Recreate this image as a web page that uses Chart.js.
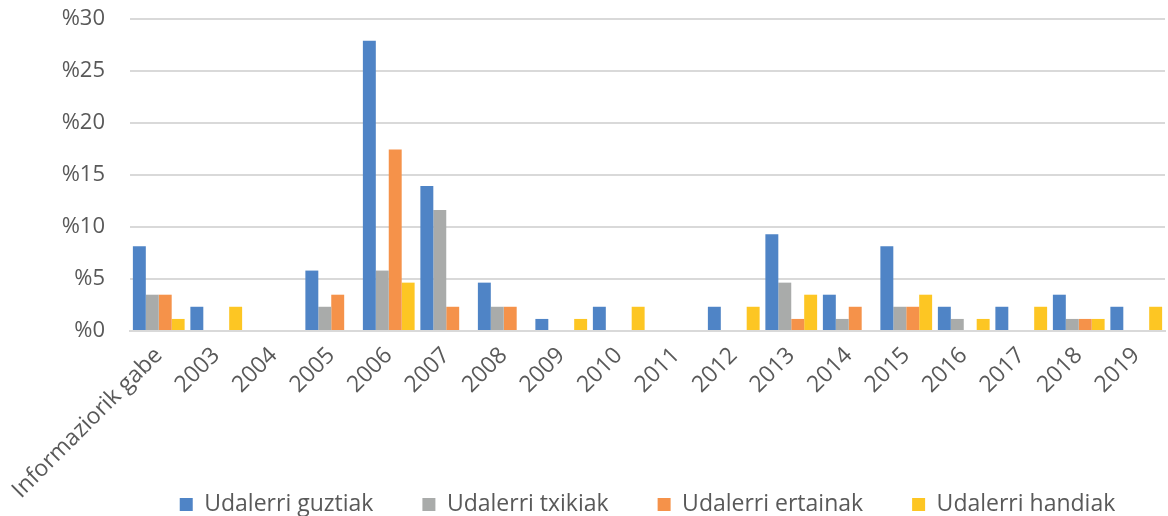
<!DOCTYPE html>
<html>
<head>
<meta charset="utf-8">
<script src="https://cdn.jsdelivr.net/npm/chart.js@4/dist/chart.umd.min.js"></script>
<style>
  html, body { margin: 0; padding: 0; background: #fff; }
  #wrap { width: 1168px; height: 516px; }
</style>
</head>
<body>
<div id="wrap"><canvas id="grafikoa"></canvas></div>
<script>
// urteak / kategoriak
const kategoriak = ['Informaziorik gabe', '2003', '2004', '2005', '2006', '2007', '2008', '2009', '2010',
  '2011', '2012', '2013', '2014', '2015', '2016', '2017', '2018', '2019'];

const guztiak  = [8.14, 2.33, 0, 5.81, 27.9, 13.95, 4.65, 1.16, 2.33, 0, 2.33, 9.3, 3.49, 8.14, 2.33, 2.33, 3.49, 2.33];
const txikiak  = [3.49, 0, 0, 2.33, 5.81, 11.63, 2.33, 0, 0, 0, 0, 4.65, 1.16, 2.33, 1.16, 0, 1.16, 0];
const ertainak = [3.49, 0, 0, 3.49, 17.44, 2.33, 2.33, 0, 0, 0, 0, 1.16, 2.33, 2.33, 0, 0, 1.16, 0];
const handiak  = [1.16, 2.33, 0, 0, 4.65, 0, 0, 1.16, 2.33, 0, 2.33, 3.49, 0, 3.49, 1.16, 2.33, 1.16, 2.33];

const yTikak = [0, 5, 10, 15, 20, 25, 30];

const letra = '"Open Sans", sans-serif';
const grisa = '#595959';

// legenda grafikoaren eremuaren erdian jarri
const legendaErdian = {
  id: 'legendaErdian',
  afterLayout(chart) {
    const l = chart.legend;
    const a = chart.chartArea;
    l.left += (a.left + a.right) - (l.left + l.right);
  }
};

const ctx = document.getElementById('grafikoa').getContext('2d');
new Chart(ctx, {
  type: 'bar',
  data: {
    labels: kategoriak,
    datasets: [
      { label: 'Udalerri guztiak', data: guztiak, backgroundColor: '#4f84c6' },
      { label: 'Udalerri txikiak', data: txikiak, backgroundColor: '#a9abaa' },
      { label: 'Udalerri ertainak', data: ertainak, backgroundColor: '#f5924a' },
      { label: 'Udalerri handiak', data: handiak, backgroundColor: '#fdc623' }
    ]
  },
  plugins: [legendaErdian],
  options: {
    responsive: true,
    maintainAspectRatio: false,
    animation: false,
    datasets: { bar: { categoryPercentage: 0.9, barPercentage: 1 } },
    layout: { padding: { left: 0, right: 3, top: 19, bottom: -10 } },
    scales: {
      x: {
        grid: { display: false },
        border: { color: '#d9d9d9', width: 2 },
        ticks: {
          color: grisa,
          font: { family: letra, size: 23 },
          minRotation: 45,
          maxRotation: 45,
          autoSkip: false
        },
        afterFit: axis => {
          axis.height = 113;
          axis.paddingLeft = 0;
          axis.paddingRight = 0;
          // etiketa luzeak ez moztu
          axis._computeLabelArea = () => undefined;
        }
      },
      y: {
        min: 0,
        max: 30,
        afterBuildTicks: axis => { axis.ticks = yTikak.map(v => ({ value: v })); },
        grid: { color: '#d9d9d9', lineWidth: 2, drawTicks: false },
        border: { display: false },
        ticks: {
          color: grisa,
          padding: 25,
          font: { family: letra, size: 22 },
          callback: v => '%' + v
        },
        afterFit: axis => {
          axis.width = 130;
          axis.paddingTop = 0;
          axis.paddingBottom = 0;
        }
      }
    },
    plugins: {
      legend: {
        position: 'bottom',
        labels: {
          color: grisa,
          font: { family: letra, size: 23 },
          boxWidth: 13,
          boxHeight: 13,
          padding: 49
        }
      },
      tooltip: { enabled: false }
    }
  }
});
</script>
</body>
</html>
